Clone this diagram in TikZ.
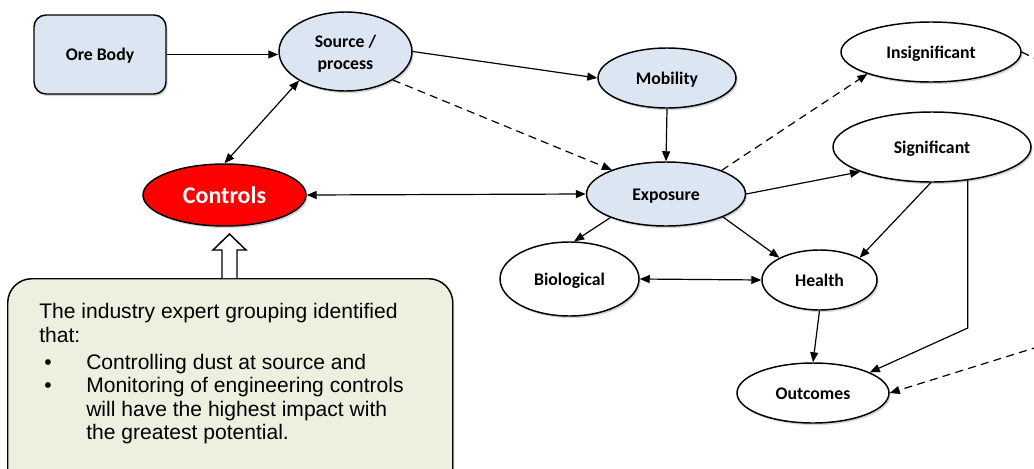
\documentclass[tikz,border=0pt]{standalone}
\usepackage{fontspec}
\setmainfont{Carlito}
\newfontfamily\notefont{Liberation Sans}
\usetikzlibrary{shapes.geometric,arrows.meta,shadows}
\definecolor{paleblue}{HTML}{DCE6F2}
\definecolor{palegreen}{HTML}{EBF1DE}
\definecolor{alarmred}{HTML}{FF0000}
\begin{document}
\begin{tikzpicture}[x=0.75pt,y=-0.75pt,
  softshadow/.style={drop shadow={shadow xshift=1.2pt,shadow yshift=-1.6pt,opacity=0.28,fill=black!60}},
  base/.style={draw=black,line width=1.1pt,inner sep=0pt,align=center,
    font=\bfseries\fontsize{13.3}{16.5}\selectfont,softshadow},
  oneline/.style={text height=9.4pt,text depth=0pt},
  oval/.style 2 args={base,ellipse,minimum width=#1*0.75pt,minimum height=#2*0.75pt},
  tip/.tip={Triangle[length=7.5pt,width=6pt]},
  link/.style={line width=0.9pt,-tip},
  both/.style={line width=0.9pt,tip-tip},
  dashlink/.style={link,dash pattern=on 6pt off 4pt},
]
\useasboundingbox (0,0) rectangle (1034,468);
\clip (0,0) rectangle (1034,468);

% nodes of the exposure pathway
\node[base,oneline,rounded corners=9pt,fill=paleblue,minimum width=132*0.75pt,minimum height=79*0.75pt] (ore) at (100,54.5) {Ore Body};
\node[oval={133}{79},fill=paleblue] (src) at (345.5,51.5) {\rule{0pt}{13pt}Source /\\process};
\node[oval={138}{60},oneline,fill=paleblue] (mob) at (667,78) {Mobility};
\node[oval={159}{64},oneline,fill=paleblue] (exp) at (666,194) {Exposure};
\node[oval={163}{62},fill=alarmred,text=white,font=\bfseries\fontsize{18}{20}\selectfont] (ctl) at (224.5,195) {Controls};
\node[oval={180}{60},oneline,fill=white] (ins) at (931,52) {Insignificant};
\node[oval={198}{70},oneline,fill=white] (sig) at (932,147) {Significant};
\node[oval={139}{74},oneline,fill=white] (bio) at (569.5,279) {Biological};
\node[oval={115}{60},oneline,fill=white] (hea) at (819.5,280) {Health};
\node[oval={152}{60},oneline,fill=white] (out) at (813,393) {Outcomes};

% helper points for the bent connectors
\coordinate (kneeS) at (967,328);
\coordinate (offA) at (1060,71);
\coordinate (offB) at (1060,340);

% connectors
\draw[link] (ore.east) -- (src.west |- ore.east);
\draw[link] (src.east) -- (mob.west);
\draw[dashlink] (src.-31) -- (exp.156);
\draw[link] (mob.south) -- (exp.north);
\draw[dashlink] (exp.23) -- (ins.199);
\draw[link] (exp.east) -- (sig.199);
\draw[link] (exp.203) -- (bio.83);
\draw[link] (exp.-22) -- (hea.151);
\draw[link] (sig.-92) -- (hea.29);
\draw[link] (sig.-43) -- (sig.-43 |- kneeS) -- (out.20);
\draw[both] (bio.east) -- (hea.west);
\draw[link] (hea.south) -- (out.north);
\draw[both] (src.212) -- (ctl.north);
\draw[both] (ctl.east) -- (exp.west);
\draw[dashlink] (ins.east) -- (offA) -- (offB) -- (out.east);

% note box with its hollow arrow
\node[draw=black,line width=1.1pt,fill=palegreen,rounded corners=18pt,softshadow,
  anchor=north west,minimum width=445*0.75pt,minimum height=220*0.75pt] (note) at (7,278) {};
\node[anchor=north west,inner sep=0pt,align=left,
  font=\notefont\fontsize{15.8}{17.6}\selectfont] (notetext) at (39,303) {%
The industry expert grouping identified\\
that:\\[3pt]
\makebox[35.25pt][l]{\hspace{3.75pt}\textbullet}Controlling dust at source and\\
\makebox[35.25pt][l]{\hspace{3.75pt}\textbullet}Monitoring of engineering controls\\
\makebox[35.25pt][l]{}will have the highest impact with\\
\makebox[35.25pt][l]{}the greatest potential.};
\coordinate (hb) at (229.5,278);
\draw[line width=1.1pt,fill=white,shift={(hb)}]
  (-7.5,0) -- (-7.5,-28) -- (-16.5,-28) -- (0,-44) -- (16.5,-28) -- (7.5,-28) -- (7.5,0);
\end{tikzpicture}
\end{document}
